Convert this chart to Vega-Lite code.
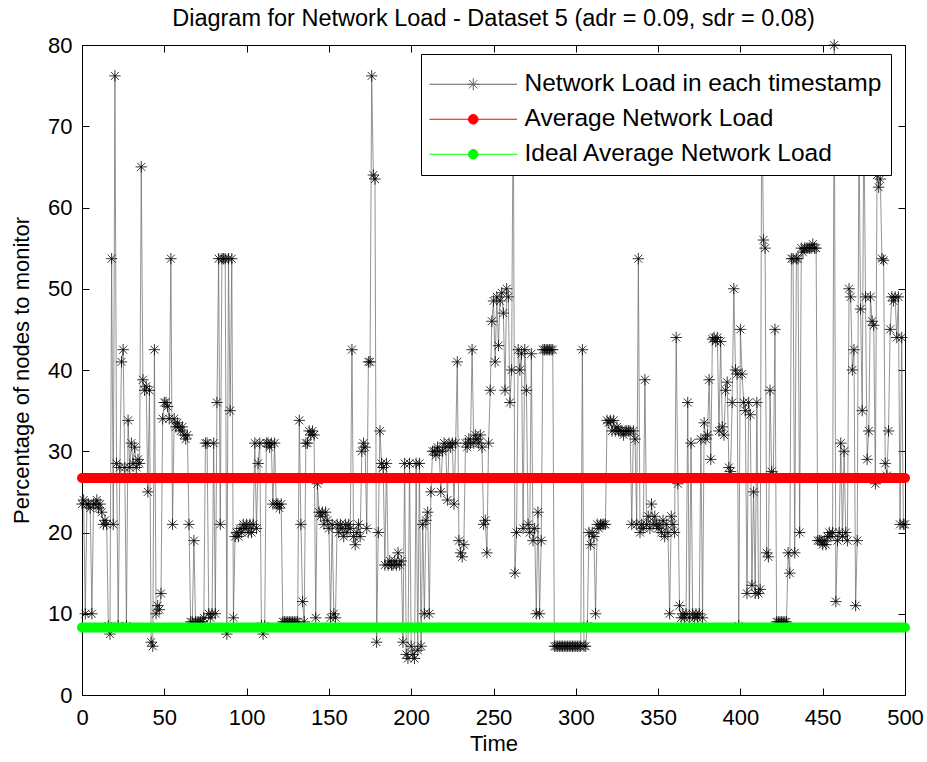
{
"$schema": "https://vega.github.io/schema/vega-lite/v6.json",
"autosize": "none",
"width": 823,
"height": 650,
"padding": {"left": 82, "top": 45, "right": 22, "bottom": 67},
"background": "white",
"title": {"text": "Diagram for Network Load - Dataset 5 (adr = 0.09, sdr = 0.08)", "font": "Liberation Sans", "fontSize": 23.5, "fontWeight": "normal", "color": "black", "anchor": "middle", "offset": 4},
"config": {
  "view": {"stroke": "black", "strokeWidth": 1},
  "axis": {"grid": false, "domainColor": "black", "tickColor": "black", "labelColor": "black", "titleColor": "black", "labelFlush": false, "labelOverlap": false, "titleFont": "Liberation Sans", "titleFontWeight": "normal", "titleFontSize": 22, "labelFont": "Liberation Sans", "labelFontSize": 22}
},
"resolve": {"axis": {"x": "independent", "y": "independent"}},
"datasets": {
"avg": [{"t": 0, "v": 26.7}, {"t": 500, "v": 26.7}],
"ideal": [{"t": 0, "v": 8.3}, {"t": 500, "v": 8.3}],
"d": [
{"t":0,"v":23.5},{"t":1,"v":24},{"t":2,"v":10},{"t":3,"v":23.5},{"t":4,"v":23.5},{"t":5,"v":23},{"t":6,"v":10},{"t":7,"v":23.5},{"t":8,"v":23.5},{"t":9,"v":24},
{"t":10,"v":23},{"t":11,"v":23.5},{"t":12,"v":22.5},{"t":13,"v":21},{"t":14,"v":21.5},{"t":15,"v":21},{"t":16,"v":8.5},{"t":17,"v":7.5},{"t":18,"v":53.7},{"t":19,"v":21},
{"t":20,"v":76.2},{"t":21,"v":28.5},{"t":22,"v":8.5},{"t":23,"v":28},{"t":24,"v":41},{"t":25,"v":42.5},{"t":26,"v":28},{"t":27,"v":8.5},{"t":28,"v":33.8},{"t":29,"v":28},
{"t":30,"v":31},{"t":31,"v":28.5},{"t":32,"v":30.5},{"t":33,"v":28},{"t":34,"v":29},{"t":35,"v":28.5},{"t":36,"v":65},{"t":37,"v":38.8},{"t":38,"v":37.5},{"t":39,"v":38},
{"t":40,"v":25},{"t":41,"v":37.5},{"t":42,"v":6.5},{"t":43,"v":6},{"t":44,"v":42.5},{"t":45,"v":10},{"t":46,"v":11},{"t":47,"v":10.5},{"t":48,"v":12.5},{"t":49,"v":34},
{"t":50,"v":36},{"t":51,"v":36},{"t":52,"v":35.5},{"t":53,"v":34},{"t":54,"v":53.7},{"t":55,"v":21},{"t":56,"v":34},{"t":57,"v":33},{"t":58,"v":33.5},{"t":59,"v":33},
{"t":60,"v":32.5},{"t":61,"v":33},{"t":62,"v":32},{"t":63,"v":31.5},{"t":64,"v":32},{"t":65,"v":21},{"t":66,"v":9},{"t":67,"v":9},{"t":68,"v":19},{"t":69,"v":9},
{"t":70,"v":9},{"t":71,"v":9},{"t":72,"v":9},{"t":73,"v":9},{"t":74,"v":9.5},{"t":75,"v":31},{"t":76,"v":31},{"t":77,"v":10},{"t":78,"v":9.5},{"t":79,"v":10},
{"t":80,"v":31},{"t":81,"v":10},{"t":82,"v":36},{"t":83,"v":53.7},{"t":84,"v":21},{"t":85,"v":53.7},{"t":86,"v":53.7},{"t":87,"v":53.7},{"t":88,"v":7.5},{"t":89,"v":53.7},
{"t":90,"v":35},{"t":91,"v":53.7},{"t":92,"v":9.5},{"t":93,"v":19.5},{"t":94,"v":20},{"t":95,"v":19.5},{"t":96,"v":20.5},{"t":97,"v":20},{"t":98,"v":21},{"t":99,"v":20.5},
{"t":100,"v":21},{"t":101,"v":20},{"t":102,"v":21},{"t":103,"v":20},{"t":104,"v":21},{"t":105,"v":31},{"t":106,"v":20.5},{"t":107,"v":28.5},{"t":108,"v":31},{"t":109,"v":8.5},
{"t":110,"v":7.5},{"t":111,"v":8.5},{"t":112,"v":31},{"t":113,"v":31},{"t":114,"v":30.5},{"t":115,"v":31},{"t":116,"v":23.5},{"t":117,"v":31},{"t":118,"v":23.5},{"t":119,"v":23.5},
{"t":120,"v":23},{"t":121,"v":23.5},{"t":122,"v":9},{"t":123,"v":9},{"t":124,"v":9},{"t":125,"v":9},{"t":126,"v":9},{"t":127,"v":9},{"t":128,"v":9},{"t":129,"v":9},
{"t":130,"v":9},{"t":131,"v":9},{"t":132,"v":33.8},{"t":133,"v":21},{"t":134,"v":11.5},{"t":135,"v":9},{"t":136,"v":31},{"t":137,"v":31},{"t":138,"v":32.5},{"t":139,"v":32},
{"t":140,"v":32.5},{"t":141,"v":32},{"t":142,"v":9.5},{"t":143,"v":26},{"t":144,"v":22.5},{"t":145,"v":22},{"t":146,"v":22.5},{"t":147,"v":21},{"t":148,"v":22.5},{"t":149,"v":21.5},
{"t":150,"v":20.5},{"t":151,"v":9.5},{"t":152,"v":21},{"t":153,"v":10},{"t":154,"v":9.5},{"t":155,"v":21},{"t":156,"v":20},{"t":157,"v":21},{"t":158,"v":20.5},{"t":159,"v":19.5},
{"t":160,"v":21},{"t":161,"v":20},{"t":162,"v":21},{"t":163,"v":20.5},{"t":164,"v":42.5},{"t":165,"v":19.5},{"t":166,"v":18.5},{"t":167,"v":20},{"t":168,"v":21},{"t":169,"v":19.5},
{"t":170,"v":30},{"t":171,"v":31},{"t":172,"v":30.5},{"t":173,"v":20.5},{"t":174,"v":41},{"t":175,"v":41},{"t":176,"v":76.2},{"t":177,"v":64},{"t":178,"v":63.5},{"t":179,"v":6.5},
{"t":180,"v":20},{"t":181,"v":32.5},{"t":182,"v":28.5},{"t":183,"v":28},{"t":184,"v":16},{"t":185,"v":28.5},{"t":186,"v":16},{"t":187,"v":16.5},{"t":188,"v":16},{"t":189,"v":16},
{"t":190,"v":16.5},{"t":191,"v":16},{"t":192,"v":17.5},{"t":193,"v":16},{"t":194,"v":16.5},{"t":195,"v":6.5},{"t":196,"v":28.5},{"t":197,"v":5},{"t":198,"v":4.5},{"t":199,"v":28.5},
{"t":200,"v":6},{"t":201,"v":5},{"t":202,"v":4.5},{"t":203,"v":28.5},{"t":204,"v":5.5},{"t":205,"v":28.5},{"t":206,"v":6},{"t":207,"v":21},{"t":208,"v":10},{"t":209,"v":21.5},
{"t":210,"v":22.5},{"t":211,"v":10},{"t":212,"v":25},{"t":213,"v":30},{"t":214,"v":30},{"t":215,"v":29.5},{"t":216,"v":30.5},{"t":217,"v":30},{"t":218,"v":25},{"t":219,"v":30},
{"t":220,"v":31},{"t":221,"v":30.5},{"t":222,"v":24},{"t":223,"v":31},{"t":224,"v":30.5},{"t":225,"v":31},{"t":226,"v":23.5},{"t":227,"v":31},{"t":228,"v":41},{"t":229,"v":19},
{"t":230,"v":17.5},{"t":231,"v":17},{"t":232,"v":18.5},{"t":233,"v":31},{"t":234,"v":30.5},{"t":235,"v":31.5},{"t":236,"v":31},{"t":237,"v":42.5},{"t":238,"v":31},{"t":239,"v":32},
{"t":240,"v":31.5},{"t":241,"v":31},{"t":242,"v":32},{"t":243,"v":30.5},{"t":244,"v":21},{"t":245,"v":21.5},{"t":246,"v":17.5},{"t":247,"v":31},{"t":248,"v":37.5},{"t":249,"v":46},
{"t":250,"v":48.5},{"t":251,"v":41},{"t":252,"v":49},{"t":253,"v":43},{"t":254,"v":48.5},{"t":255,"v":49.5},{"t":256,"v":47},{"t":257,"v":37.5},{"t":258,"v":50},{"t":259,"v":49},
{"t":260,"v":36},{"t":261,"v":40},{"t":262,"v":76},{"t":263,"v":15},{"t":264,"v":20},{"t":265,"v":42.5},{"t":266,"v":40},{"t":267,"v":42},{"t":268,"v":20.5},{"t":269,"v":42.5},
{"t":270,"v":37.5},{"t":271,"v":21},{"t":272,"v":20},{"t":273,"v":42},{"t":274,"v":19},{"t":275,"v":20.5},{"t":276,"v":10},{"t":277,"v":22.5},{"t":278,"v":10},{"t":279,"v":19},
{"t":280,"v":42.5},{"t":281,"v":42.5},{"t":282,"v":42.5},{"t":283,"v":42.5},{"t":284,"v":42.5},{"t":285,"v":42.5},{"t":286,"v":42.5},{"t":287,"v":6},{"t":288,"v":6},{"t":289,"v":6},
{"t":290,"v":6},{"t":291,"v":6},{"t":292,"v":6},{"t":293,"v":6},{"t":294,"v":6},{"t":295,"v":6},{"t":296,"v":6},{"t":297,"v":6},{"t":298,"v":6},{"t":299,"v":6},
{"t":300,"v":6},{"t":301,"v":6},{"t":302,"v":6},{"t":303,"v":6},{"t":304,"v":42.5},{"t":305,"v":6},{"t":306,"v":6},{"t":307,"v":8.5},{"t":308,"v":20},{"t":309,"v":18.5},
{"t":310,"v":20},{"t":311,"v":19.5},{"t":312,"v":10},{"t":313,"v":21},{"t":314,"v":20.5},{"t":315,"v":21},{"t":316,"v":21},{"t":317,"v":21},{"t":318,"v":21},{"t":319,"v":33.8},
{"t":320,"v":33.5},{"t":321,"v":33.8},{"t":322,"v":32.5},{"t":323,"v":33.8},{"t":324,"v":32.5},{"t":325,"v":33},{"t":326,"v":32.5},{"t":327,"v":32.5},{"t":328,"v":32.5},{"t":329,"v":32},
{"t":330,"v":32.5},{"t":331,"v":32.5},{"t":332,"v":32.5},{"t":333,"v":32.5},{"t":334,"v":21},{"t":335,"v":32.5},{"t":336,"v":31.5},{"t":337,"v":21},{"t":338,"v":53.7},{"t":339,"v":20},
{"t":340,"v":21},{"t":341,"v":20.5},{"t":342,"v":38.8},{"t":343,"v":21},{"t":344,"v":22},{"t":345,"v":20.5},{"t":346,"v":23.5},{"t":347,"v":21},{"t":348,"v":22},{"t":349,"v":21},
{"t":350,"v":20.5},{"t":351,"v":21},{"t":352,"v":20},{"t":353,"v":21.5},{"t":354,"v":19.5},{"t":355,"v":21},{"t":356,"v":20},{"t":357,"v":10},{"t":358,"v":22},{"t":359,"v":21},
{"t":360,"v":20},{"t":361,"v":44},{"t":362,"v":26},{"t":363,"v":11},{"t":364,"v":9.5},{"t":365,"v":10},{"t":366,"v":9.5},{"t":367,"v":10},{"t":368,"v":36},{"t":369,"v":9.5},
{"t":370,"v":31},{"t":371,"v":10},{"t":372,"v":9.5},{"t":373,"v":10},{"t":374,"v":9.5},{"t":375,"v":10},{"t":376,"v":31.5},{"t":377,"v":9.5},{"t":378,"v":33.5},{"t":379,"v":31.5},
{"t":380,"v":32},{"t":381,"v":38.8},{"t":382,"v":29},{"t":383,"v":43.8},{"t":384,"v":44},{"t":385,"v":43.5},{"t":386,"v":44},{"t":387,"v":32.5},{"t":388,"v":43.5},{"t":389,"v":33},
{"t":390,"v":32},{"t":391,"v":37.5},{"t":392,"v":38.5},{"t":393,"v":28},{"t":394,"v":27.5},{"t":395,"v":36},{"t":396,"v":50},{"t":397,"v":40},{"t":398,"v":39.5},{"t":399,"v":8.5},
{"t":400,"v":45},{"t":401,"v":39.5},{"t":402,"v":36},{"t":403,"v":35},{"t":404,"v":12.5},{"t":405,"v":36},{"t":406,"v":34.5},{"t":407,"v":13.5},{"t":408,"v":25},{"t":409,"v":12.5},
{"t":410,"v":36},{"t":411,"v":12.5},{"t":412,"v":13},{"t":413,"v":76},{"t":414,"v":56},{"t":415,"v":55},{"t":416,"v":17.5},{"t":417,"v":17},{"t":418,"v":37.5},{"t":419,"v":27.5},
{"t":420,"v":27},{"t":421,"v":45},{"t":422,"v":9},{"t":423,"v":9},{"t":424,"v":9},{"t":425,"v":9},{"t":426,"v":9},{"t":427,"v":9},{"t":428,"v":9},{"t":429,"v":17.5},
{"t":430,"v":15},{"t":431,"v":53.7},{"t":432,"v":53.7},{"t":433,"v":17.5},{"t":434,"v":53.7},{"t":435,"v":53.7},{"t":436,"v":20},{"t":437,"v":55},{"t":438,"v":54.5},{"t":439,"v":55},
{"t":440,"v":55},{"t":441,"v":55},{"t":442,"v":55},{"t":443,"v":55},{"t":444,"v":55.5},{"t":445,"v":55},{"t":446,"v":55},{"t":447,"v":19},{"t":448,"v":19},{"t":449,"v":19},
{"t":450,"v":18.5},{"t":451,"v":19},{"t":452,"v":18.5},{"t":453,"v":19.5},{"t":454,"v":20},{"t":455,"v":19.5},{"t":456,"v":20},{"t":457,"v":80},{"t":458,"v":11.5},{"t":459,"v":19},
{"t":460,"v":20},{"t":461,"v":31},{"t":462,"v":19.5},{"t":463,"v":30},{"t":464,"v":20},{"t":465,"v":19},{"t":466,"v":50},{"t":467,"v":49},{"t":468,"v":40},{"t":469,"v":42.5},
{"t":470,"v":11},{"t":471,"v":19},{"t":472,"v":70},{"t":473,"v":47.5},{"t":474,"v":35},{"t":475,"v":72},{"t":476,"v":49},{"t":477,"v":29},{"t":478,"v":32.5},{"t":479,"v":49},
{"t":480,"v":46},{"t":481,"v":45.5},{"t":482,"v":26},{"t":483,"v":64},{"t":484,"v":62.5},{"t":485,"v":63.5},{"t":486,"v":53.7},{"t":487,"v":53.5},{"t":488,"v":28.5},{"t":489,"v":27},
{"t":490,"v":32.5},{"t":491,"v":45},{"t":492,"v":49},{"t":493,"v":48.5},{"t":494,"v":49},{"t":495,"v":44},{"t":496,"v":49},{"t":497,"v":21},{"t":498,"v":44},{"t":499,"v":21},
{"t":500,"v":21}
]},
"layer": [
{
  "data": {"name": "d"},
  "mark": {"type": "line", "strokeWidth": 0.7},
  "encoding": {
    "x": {"field": "t", "type": "quantitative", "scale": {"domain": [0, 500], "nice": false, "zero": false},
          "axis": {"orient": "bottom", "values": [0,50,100,150,200,250,300,350,400,450,500], "tickSize": -7, "labelPadding": 19, "title": "Time", "titlePadding": 5}},
    "y": {"field": "v", "type": "quantitative", "scale": {"domain": [0, 80], "nice": false},
          "axis": {"orient": "left", "values": [0,10,20,30,40,50,60,70,80], "tickSize": -7, "labelPadding": 17, "title": "Percentage of nodes to monitor", "titlePadding": 14}},
    "color": {"datum": "Network Load in each timestamp", "type": "nominal",
      "scale": {"domain": ["Network Load in each timestamp", "Average Network Load", "Ideal Average Network Load"], "range": ["#666666", "#ff0000", "#00ff00"]},
      "legend": {"orient": "none", "legendX": 339, "legendY": 9, "title": " ", "titleFontSize": 6, "titlePadding": 3, "fillColor": "white", "strokeColor": "black", "padding": 9,
        "symbolSize": 144, "symbolOffset": 31, "labelOffset": 39, "labelFont": "Liberation Sans", "labelFontSize": 24.5, "labelColor": "black", "labelLimit": 0, "rowPadding": 10,
        "encode": {"symbols": {"update": {
          "shape": {"signal": "datum.value === 'Network Load in each timestamp' ? 'M-7.3,0L7.3,0M-1,0L1,0M0,-1L0,1M-0.7,-0.7L0.7,0.7M-0.7,0.7L0.7,-0.7' : 'M-7.3,0L7.3,0M-0.8,0A0.8,0.8,0,1,1,0.8,0A0.8,0.8,0,1,1,-0.8,0Z'"},
          "stroke": {"signal": "datum.value === 'Network Load in each timestamp' ? '#333333' : datum.value === 'Average Network Load' ? '#ff0000' : '#00ff00'"},
          "fill": {"signal": "datum.value === 'Network Load in each timestamp' ? 'transparent' : datum.value === 'Average Network Load' ? '#ff0000' : '#00ff00'"},
          "strokeWidth": {"value": 1},
          "opacity": {"value": 1}
        }}}}
    }
  }
},
{
  "data": {"name": "d"},
  "mark": {"type": "point", "shape": "M-1,0L1,0M0,-1L0,1M-0.7,-0.7L0.7,0.7M-0.7,0.7L0.7,-0.7", "filled": false, "stroke": "black", "strokeWidth": 0.8, "size": 130, "opacity": 1},
  "encoding": {
    "x": {"field": "t", "type": "quantitative", "axis": null},
    "y": {"field": "v", "type": "quantitative", "axis": null}
  }
},
{
  "data": {"name": "avg"},
  "mark": {"type": "line", "strokeWidth": 10, "strokeCap": "round"},
  "encoding": {
    "x": {"field": "t", "type": "quantitative", "axis": null},
    "y": {"field": "v", "type": "quantitative", "axis": null},
    "color": {"datum": "Average Network Load", "type": "nominal"}
  }
},
{
  "data": {"name": "ideal"},
  "mark": {"type": "line", "strokeWidth": 10, "strokeCap": "round"},
  "encoding": {
    "x": {"field": "t", "type": "quantitative", "axis": {"orient": "top", "values": [0,50,100,150,200,250,300,350,400,450,500], "tickSize": -7, "labels": false, "title": null}},
    "y": {"field": "v", "type": "quantitative", "axis": {"orient": "right", "values": [0,10,20,30,40,50,60,70,80], "tickSize": -7, "labels": false, "title": null}},
    "color": {"datum": "Ideal Average Network Load", "type": "nominal"}
  }
}
]
}
